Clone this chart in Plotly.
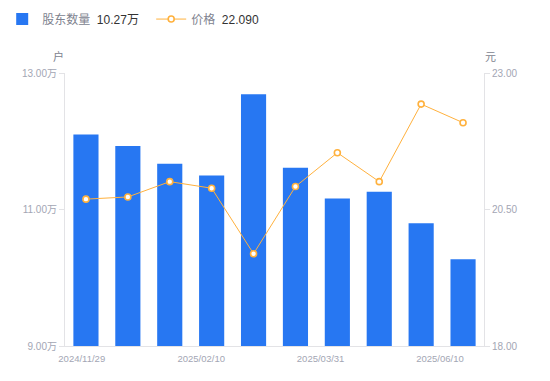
import plotly.graph_objects as go

dates = ["2024/11/29", "2024/12/31", "2025/01/20", "2025/02/10", "2025/02/28",
         "2025/03/20", "2025/03/31", "2025/04/30", "2025/05/20", "2025/06/10"]
holders_wan = [12.10, 11.93, 11.67, 11.50, 12.69, 11.61, 11.16, 11.26, 10.80, 10.27]
price = [20.69, 20.73, 21.01, 20.89, 19.69, 20.92, 21.54, 21.01, 22.43, 22.09]

left_ticks = [9, 11, 13]
left_ticktext = ["9.00万", "11.00万", "13.00万"]
right_ticks = [18, 20.5, 23]
shown_dates = ["2024/11/29", "2025/02/10", "2025/03/31", "2025/06/10"]

FONT = "Liberation Sans, Arial, Noto Sans CJK SC, sans-serif"
BLUE = "#2777F2"
ORANGE = "#FFB13D"
AXIS = "#E3E3E6"
TICKC = "#A3A6B4"

xs = list(range(len(dates)))
n = len(dates)
# label positions as rendered in the reference (slightly compressed spread)
k_lab = len(shown_dates)
lab_pos = [-0.1 + k * (8.45 + 0.1) / (k_lab - 1) for k in range(k_lab)]

fig = go.Figure()
fig.add_trace(go.Bar(
    x=xs, y=holders_wan, width=0.6, marker=dict(color=BLUE, line=dict(width=0)),
    name="股东数量  <span style='color:#333333'>%.2f万</span>" % holders_wan[-1],
    yaxis="y",
))
fig.add_trace(go.Scatter(
    x=xs, y=price, mode="lines+markers",
    line=dict(color=ORANGE, width=1),
    marker=dict(size=6, color="white", line=dict(color=ORANGE, width=1.6)),
    name="价格  <span style='color:#333333'>%.3f</span>" % price[-1],
    yaxis="y2",
))

fig.update_layout(
    width=550, height=381,
    margin=dict(l=65, r=66, t=73, b=35),
    paper_bgcolor="white", plot_bgcolor="white",
    font=dict(family=FONT, size=12, color="#666666"),
    showlegend=True,
    legend=dict(orientation="h", xref="container", yref="container",
                x=0.004, y=0.988, xanchor="left", yanchor="top",
                font=dict(size=12, color="#80838F"), itemwidth=30,
                entrywidth=104, entrywidthmode="pixels",
                traceorder="normal", bgcolor="rgba(0,0,0,0)"),
    bargap=0.4,
    xaxis=dict(range=[-0.5, n - 0.5], tickmode="array", tickvals=lab_pos,
               ticktext=shown_dates, showline=True, linecolor=AXIS, linewidth=1,
               ticks="outside", ticklen=4, tickcolor="rgba(0,0,0,0)",
               showgrid=False, zeroline=False,
               tickfont=dict(size=9.5, color=TICKC, family=FONT), fixedrange=True),
    yaxis=dict(range=[9, 13], tickmode="array", tickvals=left_ticks, ticktext=left_ticktext,
               showline=True, linecolor=AXIS, linewidth=1, ticks="outside", ticklen=5,
               tickcolor=AXIS, showgrid=False, zeroline=False,
               tickfont=dict(size=10, color=TICKC, family=FONT)),
    yaxis2=dict(range=[18, 23], tickmode="array", tickvals=right_ticks, tickformat=".2f",
                overlaying="y", side="right",
                showline=True, linecolor=AXIS, linewidth=1, ticks="outside", ticklen=5,
                tickcolor=AXIS, showgrid=False, zeroline=False,
                tickfont=dict(size=10, color=TICKC, family=FONT)),
    annotations=[
        dict(text="户", xref="paper", yref="paper", x=0, y=1, xanchor="center", yanchor="bottom",
             xshift=-7, yshift=8, showarrow=False, font=dict(size=11, color="#80838F")),
        dict(text="元", xref="paper", yref="paper", x=1, y=1, xanchor="center", yanchor="bottom",
             xshift=6, yshift=8, showarrow=False, font=dict(size=11, color="#80838F")),
    ],
)

fig.write_html("out.html", config={"displayModeBar": False},
               post_script="document.body.style.margin='0';")
